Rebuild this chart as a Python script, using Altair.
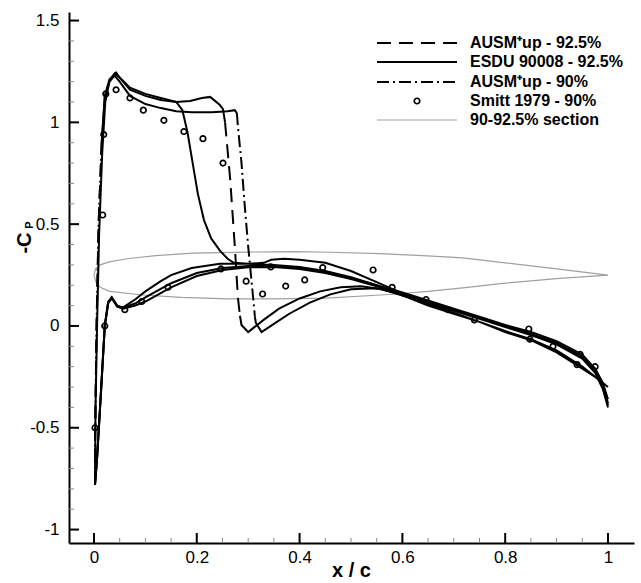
import altair as alt
import pandas as pd

# ---------------- data (x/c, -Cp) ----------------
# ESDU 90008 - 92.5% : lower surface TE->LE, then upper surface LE->TE
esdu_x = [1.0, 0.975, 0.95, 0.9, 0.85, 0.8, 0.75, 0.7, 0.65, 0.6, 0.55, 0.5, 0.45, 0.4, 0.35, 0.3,
          0.245, 0.19, 0.15, 0.13, 0.1, 0.08, 0.056, 0.045, 0.034, 0.027, 0.021, 0.013, 0.006, 0.002,
          0.003, 0.006, 0.01, 0.016, 0.022, 0.03, 0.04, 0.05, 0.07, 0.1, 0.13, 0.16, 0.172, 0.182,
          0.192, 0.202, 0.214, 0.228, 0.245, 0.26, 0.272, 0.3, 0.33, 0.345, 0.37, 0.4, 0.45, 0.5,
          0.55, 0.6, 0.65, 0.7, 0.75, 0.8, 0.85, 0.9, 0.95, 0.975, 1.0]
esdu_cp = [-0.30, -0.25, -0.21, -0.13, -0.07, -0.03, 0.02, 0.06, 0.10, 0.15, 0.20, 0.24, 0.27, 0.29,
           0.30, 0.305, 0.305, 0.285, 0.25, 0.22, 0.17, 0.13, 0.09, 0.10, 0.14, 0.11, 0.0, -0.35,
           -0.65, -0.78,
           -0.4, 0.0, 0.45, 0.85, 1.1, 1.2, 1.24, 1.22, 1.17, 1.14, 1.12, 1.1, 1.06, 0.95,
           0.8, 0.65, 0.52, 0.43, 0.37, 0.33, 0.31, 0.305, 0.31, 0.325, 0.33, 0.325, 0.31, 0.27,
           0.215, 0.16, 0.11, 0.065, 0.02, -0.025, -0.065, -0.12, -0.2, -0.25, -0.30]

# AUSM+up - 92.5% (dashed)
ausm925_x = [1.0, 0.99, 0.975, 0.95, 0.9, 0.85, 0.8, 0.75, 0.7, 0.65, 0.6, 0.55, 0.5, 0.45, 0.4,
             0.35, 0.3, 0.25, 0.2, 0.15, 0.1, 0.08, 0.057, 0.045, 0.035, 0.028, 0.021, 0.013, 0.006,
             0.002,
             0.002, 0.005, 0.009, 0.015, 0.021, 0.03, 0.043, 0.05, 0.07, 0.1, 0.13, 0.16, 0.187,
             0.21, 0.226, 0.245, 0.251, 0.255, 0.265, 0.274, 0.28, 0.284, 0.287, 0.30, 0.33, 0.36,
             0.4, 0.44, 0.48, 0.52, 0.56, 0.6, 0.65, 0.7, 0.75, 0.8, 0.85, 0.9, 0.95, 0.975, 0.99,
             1.0]
ausm925_cp = [-0.38, -0.29, -0.21, -0.14, -0.075, -0.03, 0.005, 0.045, 0.085, 0.125, 0.165, 0.2,
              0.235, 0.265, 0.285, 0.295, 0.295, 0.285, 0.26, 0.21, 0.14, 0.11, 0.09, 0.1, 0.14,
              0.12, 0.0, -0.35, -0.65, -0.78,
              -0.6, 0.0, 0.5, 0.9, 1.13, 1.21, 1.245, 1.22, 1.16, 1.13, 1.11, 1.1, 1.105,
              1.12, 1.125, 1.085, 1.065, 1.0, 0.72, 0.39, 0.14, 0.05, 0.005, -0.03, 0.03, 0.085,
              0.135, 0.17, 0.19, 0.195, 0.18, 0.15, 0.115, 0.075, 0.035, -0.005, -0.045, -0.09,
              -0.16, -0.23, -0.31, -0.40]
# index spans (start, end) where the dash pattern is visible (sparse points)
ausm925_pattern_spans = [(29, 33), (47, 51)]

# AUSM+up - 90% (dash-dot)
ausm90_x = [1.0, 0.99, 0.975, 0.95, 0.9, 0.85, 0.8, 0.75, 0.7, 0.65, 0.6, 0.55, 0.5, 0.45, 0.4,
            0.35, 0.3, 0.25, 0.2, 0.15, 0.1, 0.08, 0.057, 0.045, 0.035, 0.028, 0.021, 0.013, 0.006,
            0.002,
            0.002, 0.005, 0.009, 0.015, 0.021, 0.03, 0.04, 0.05, 0.07, 0.1, 0.13, 0.16, 0.19, 0.23,
            0.26, 0.274, 0.278, 0.28, 0.287, 0.293, 0.30, 0.31, 0.313, 0.315, 0.326, 0.35, 0.38,
            0.42, 0.46, 0.5, 0.55, 0.6, 0.65, 0.7, 0.75, 0.8, 0.85, 0.9, 0.95, 0.975, 0.99, 1.0]
ausm90_cp = [-0.36, -0.28, -0.21, -0.15, -0.085, -0.04, 0.0, 0.04, 0.08, 0.12, 0.16, 0.195, 0.23,
             0.26, 0.28, 0.29, 0.288, 0.275, 0.245, 0.19, 0.12, 0.1, 0.085, 0.095, 0.135, 0.115,
             0.0, -0.35, -0.65, -0.78,
             -0.6, 0.0, 0.5, 0.9, 1.12, 1.2, 1.23, 1.2, 1.13, 1.09, 1.07, 1.055, 1.05, 1.05,
             1.055, 1.06, 1.045, 0.98, 0.8, 0.6, 0.39, 0.13, 0.046, 0.015, -0.03, 0.01, 0.06,
             0.115, 0.155, 0.18, 0.185, 0.155, 0.12, 0.08, 0.04, 0.0, -0.04, -0.085, -0.15, -0.22,
             -0.3, -0.39]
ausm90_pattern_spans = [(29, 33), (46, 52)]

# Smitt 1979 - 90% (experiment)
smitt_x = [0.002, 0.017, 0.019, 0.023, 0.043, 0.07, 0.096, 0.136, 0.175, 0.212, 0.251, 0.296,
           0.328, 0.373, 0.41, 0.445, 0.543, 0.58, 0.646, 0.689, 0.74, 0.848, 0.94,
           0.021, 0.06, 0.093, 0.144, 0.247, 0.344, 0.846, 0.893, 0.946, 0.975]
smitt_cp = [-0.5, 0.545, 0.94, 1.14, 1.16, 1.12, 1.06, 1.01, 0.955, 0.92, 0.80, 0.22,
            0.157, 0.196, 0.226, 0.287, 0.275, 0.19, 0.13, 0.08, 0.03, -0.065, -0.19,
            0.0, 0.08, 0.12, 0.19, 0.28, 0.29, -0.015, -0.1, -0.14, -0.2]

# 90-92.5% section outline (upper then lower, closed)
section_x = [0.0, 0.003, 0.012, 0.03, 0.064, 0.12, 0.193, 0.3, 0.39, 0.46, 0.556, 0.64, 0.718, 0.8,
             0.9, 1.0, 0.9, 0.8, 0.718, 0.65, 0.59, 0.556, 0.453, 0.35, 0.26, 0.17, 0.095, 0.03,
             0.012, 0.004, 0.0]
section_y = [0.25, 0.28, 0.30, 0.315, 0.33, 0.345, 0.358, 0.363, 0.365, 0.362, 0.355, 0.345, 0.334,
             0.31, 0.28, 0.25, 0.232, 0.21, 0.187, 0.17, 0.157, 0.152, 0.137, 0.133, 0.133, 0.14,
             0.152, 0.17, 0.19, 0.215, 0.25]

x_major = [0, 0.2, 0.4, 0.6, 0.8, 1.0]
x_minor = [0.05, 0.1, 0.15, 0.25, 0.3, 0.35, 0.45, 0.5, 0.55, 0.65, 0.7, 0.75, 0.85, 0.9, 0.95]
y_major = [-1, -0.5, 0, 0.5, 1, 1.5]
y_minor = [-0.9, -0.8, -0.7, -0.6, -0.4, -0.3, -0.2, -0.1, 0.1, 0.2, 0.3, 0.4,
           0.6, 0.7, 0.8, 0.9, 1.1, 1.2, 1.3, 1.4]

legend_labels = ["AUSM\u207aup - 92.5%", "ESDU 90008 - 92.5%", "AUSM\u207aup - 90%",
                 "Smitt 1979 - 90%", "90-92.5% section"]

# ---------------- layout ----------------
W, H = 565, 531
XDOM = [-0.0486, 1.0506]
YDOM = [-1.066, 1.542]
FONT = "Liberation Sans"
DASH = [14, 8]
DASHDOT = [12, 4, 2, 4]

xs = alt.Scale(domain=XDOM, nice=False, zero=False)
ys = alt.Scale(domain=YDOM, nice=False, zero=False)

x_axis = alt.Axis(values=x_major, labelExpr="toString(datum.value)", ticks=False,
                  grid=False, title=None, domainColor="black", domainWidth=2,
                  labelFont=FONT, labelFontSize=17, labelColor="black",
                  labelPadding=6, labelFlush=False)
y_axis = alt.Axis(values=y_major, labelExpr="toString(datum.value)", ticks=False,
                  grid=False, title=None, domainColor="black", domainWidth=2,
                  labelFont=FONT, labelFontSize=17, labelColor="black",
                  labelPadding=10, labelFlush=False)

X_enc = alt.X("x:Q", scale=xs, axis=x_axis)
Y_enc = alt.Y("y:Q", scale=ys, axis=y_axis)


def curve_df(xv, yv):
    return pd.DataFrame({"x": xv, "y": yv, "i": list(range(len(xv)))})


def line_layer(xv, yv, dash=None, color="black", width=2):
    kw = dict(color=color, strokeWidth=width)
    if dash is not None:
        kw["strokeDash"] = dash
    return alt.Chart(curve_df(xv, yv)).mark_line(**kw).encode(x=X_enc, y=Y_enc, order="i:Q")


def patterned_curve(xv, yv, spans, dash):
    """Solid where the curve points are dense, patterned on the given index spans."""
    layers = []
    cuts = [0]
    for a, b in spans:
        cuts += [a, b]
    cuts.append(len(xv) - 1)
    for k in range(len(cuts) - 1):
        a, b = cuts[k], cuts[k + 1]
        if b <= a:
            continue
        pat = dash if k % 2 == 1 else None
        layers.append(line_layer(xv[a:b + 1], yv[a:b + 1], dash=pat))
    return layers


section = line_layer(section_x, section_y, color="#a0a0a0", width=1.2)
esdu = line_layer(esdu_x, esdu_cp)
ausm925 = patterned_curve(ausm925_x, ausm925_cp, ausm925_pattern_spans, DASH)
ausm90 = patterned_curve(ausm90_x, ausm90_cp, ausm90_pattern_spans, DASHDOT)

smitt = alt.Chart(curve_df(smitt_x, smitt_cp)).mark_point(
    shape="circle", filled=False, color="black", size=30, strokeWidth=1.7, opacity=1
).encode(x=X_enc, y=Y_enc)

# inward ticks
xmaj = alt.Chart(pd.DataFrame({"x": x_major})).mark_rule(color="black", strokeWidth=2).encode(
    x=X_enc, y=alt.value(H), y2=alt.value(H - 10))
xmin = alt.Chart(pd.DataFrame({"x": x_minor})).mark_rule(color="#888888", strokeWidth=1).encode(
    x=X_enc, y=alt.value(H), y2=alt.value(H - 5))
ymaj = alt.Chart(pd.DataFrame({"y": y_major})).mark_rule(color="black", strokeWidth=2).encode(
    y=Y_enc, x=alt.value(0), x2=alt.value(10))
ymin = alt.Chart(pd.DataFrame({"y": y_minor})).mark_rule(color="#888888", strokeWidth=1).encode(
    y=Y_enc, x=alt.value(0), x2=alt.value(5))

# axis titles
xtitle = alt.Chart(pd.DataFrame({"t": ["x / c"]})).mark_text(
    font=FONT, fontSize=20, fontWeight="bold", align="center", baseline="alphabetic",
    color="black").encode(text="t:N", x=alt.value(W / 2), y=alt.value(565))
ytitle = alt.Chart(pd.DataFrame({"t": ["-C"]})).mark_text(
    font=FONT, fontSize=20, fontWeight="bold", align="center", baseline="middle", angle=270,
    color="black").encode(text="t:N", x=alt.value(-44), y=alt.value(231))
ysub = alt.Chart(pd.DataFrame({"t": ["P"]})).mark_text(
    font=FONT, fontSize=11, fontWeight="bold", align="center", baseline="middle", angle=270,
    color="black").encode(text="t:N", x=alt.value(-39), y=alt.value(213))

# legend
LX1, LX2, TX = 308, 388, 401
rows = [31, 50, 70, 89, 108]
leg_dash = alt.Chart(pd.DataFrame({"a": [0]})).mark_rule(
    color="black", strokeWidth=2, strokeDash=DASH).encode(
    x=alt.value(LX1), x2=alt.value(LX2), y=alt.value(rows[0]))
leg_solid = alt.Chart(pd.DataFrame({"a": [0]})).mark_rule(
    color="black", strokeWidth=2).encode(
    x=alt.value(LX1), x2=alt.value(LX2), y=alt.value(rows[1]))
leg_dd = alt.Chart(pd.DataFrame({"a": [0]})).mark_rule(
    color="black", strokeWidth=2, strokeDash=DASHDOT).encode(
    x=alt.value(LX1), x2=alt.value(LX2), y=alt.value(rows[2]))
leg_pt = alt.Chart(pd.DataFrame({"a": [0]})).mark_point(
    shape="circle", filled=False, color="black", size=30, strokeWidth=1.7, opacity=1).encode(
    x=alt.value((LX1 + LX2) / 2), y=alt.value(rows[3]))
leg_sec = alt.Chart(pd.DataFrame({"a": [0]})).mark_rule(
    color="#a0a0a0", strokeWidth=1.2).encode(
    x=alt.value(LX1), x2=alt.value(LX2), y=alt.value(rows[4]))
leg_text = alt.Chart(pd.DataFrame({"t": legend_labels, "r": rows})).mark_text(
    font=FONT, fontSize=16, fontWeight="bold", align="left", baseline="middle",
    color="black").encode(text="t:N", x=alt.value(TX), y=alt.Y("r:Q", scale=None))

chart = alt.layer(
    section, esdu, *ausm925, *ausm90, smitt,
    xmin, ymin, xmaj, ymaj, xtitle, ytitle, ysub,
    leg_dash, leg_solid, leg_dd, leg_pt, leg_sec, leg_text
).properties(
    width=W, height=H, autosize="none",
    padding={"left": 69, "top": 12, "right": 7, "bottom": 40},
    background="white",
).configure_view(stroke=None)

chart.save("out.html", embed_options={"renderer": "svg", "actions": False})
